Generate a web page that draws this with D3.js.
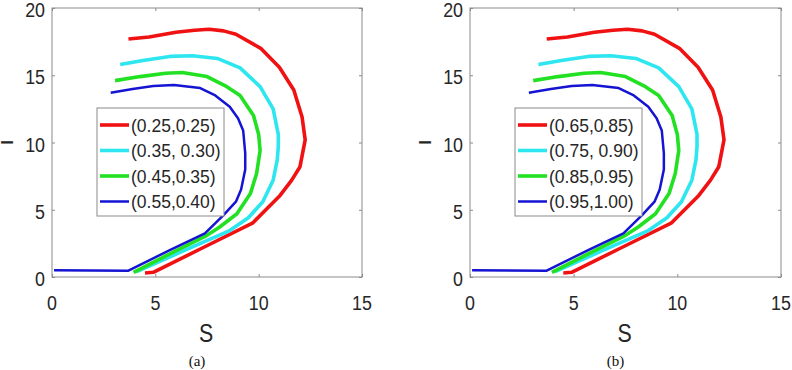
<!DOCTYPE html>
<html lang="en">
<head>
    <meta charset="UTF-8">
    <title>S-I phase curves</title>
    <script src="https://d3js.org/d3.v7.min.js" charset="utf-8"></script>
    <style>
        body { margin: 0; background: #fff; }
        svg { display: block; background: #fff; }
    </style>
</head>
<body>
    <div id="chart"></div>
    <script>
        // curve points as [S, I]
        var redPts = [[4.5, 0.3], [4.9, 0.35], [7.2, 2.1], [9.7, 4.0], [11.0, 6.0], [11.6, 7.2], [12.0, 8.2],
                      [12.25, 10.2], [12.1, 11.9], [11.7, 13.9], [11.0, 15.6], [10.1, 17.0], [8.9, 18.05],
                      [8.3, 18.3], [7.6, 18.42], [6.9, 18.35], [6.0, 18.2], [4.7, 17.85], [3.7, 17.7]];
        var cyanPts = [[4.1, 0.4], [6.3, 1.9], [8.6, 3.45], [9.5, 4.4], [10.2, 5.6], [10.7, 7.2], [10.9, 8.7],
                       [10.95, 9.7], [10.95, 10.6], [10.7, 12.5], [10.07, 14.15], [9.1, 15.55], [8.0, 16.25],
                       [6.8, 16.45], [5.7, 16.4], [4.4, 16.1], [3.3, 15.8]];
        var greenPts = [[3.95, 0.35], [5.8, 1.8], [7.5, 3.1], [8.1, 3.7], [8.95, 4.7], [9.6, 6.2], [9.9, 7.7],
                        [10.07, 9.4], [10.0, 10.6], [9.75, 12.0], [9.1, 13.5], [8.46, 14.15], [7.5, 14.9],
                        [6.3, 15.2], [5.5, 15.15], [4.26, 14.9], [3.05, 14.6]];
        var bluePts = [[0.1, 0.5], [3.7, 0.47], [5.7, 2.0], [7.4, 3.25], [8.3, 4.6], [8.9, 5.6], [9.15, 6.5],
                       [9.35, 8.0], [9.35, 9.2], [9.25, 10.9], [9.0, 11.8], [8.6, 12.66], [7.9, 13.5],
                       [7.17, 14.05], [5.9, 14.28], [4.9, 14.2], [3.9, 13.98], [2.84, 13.7]];

        var curveColors = ['#f01212', '#2ee6f0', '#22e022', '#1414d2'];
        var curveWidths = [3.6, 3.6, 3.6, 2.5];
        var legendA = ['(0.25,0.25)', '(0.35, 0.30)', '(0.45,0.35)', '(0.55,0.40)'];
        var legendB = ['(0.65,0.85)', '(0.75, 0.90)', '(0.85,0.95)', '(0.95,1.00)'];
        var xTicks = [0, 5, 10, 15];
        var yTicks = [0, 5, 10, 15, 20];

        var width = 792, height = 370;
        var plotTop = 8, plotBottom = 277;
        var tickFont = 'Liberation Sans, Arial, sans-serif';

        var svg = d3.select('#chart').append('svg')
            .attr('width', width)
            .attr('height', height);

        function drawPanel(left, right, labels, caption) {
            var x = d3.scaleLinear().domain([0, 15]).range([left, right]);
            var y = d3.scaleLinear().domain([0, 20]).range([plotBottom, plotTop]);
            var g = svg.append('g');

            // curves
            var line = d3.line().x(d => x(d[0])).y(d => y(d[1]));
            [redPts, cyanPts, greenPts, bluePts].forEach(function(pts, i) {
                g.append('path')
                    .attr('d', line(pts))
                    .attr('fill', 'none')
                    .attr('stroke', curveColors[i])
                    .attr('stroke-width', curveWidths[i])
                    .attr('stroke-linejoin', 'round');
            });

            // box with inward ticks on all four sides
            g.append('rect')
                .attr('x', left).attr('y', plotTop)
                .attr('width', right - left).attr('height', plotBottom - plotTop)
                .attr('fill', 'none').attr('stroke', '#8a8a8a').attr('stroke-width', 1);

            function tickOnly(a) {
                a.select('.domain').remove();
                a.selectAll('text').remove();
                a.selectAll('.tick line').attr('stroke', '#8a8a8a');
            }
            g.append('g').attr('transform', 'translate(0,' + plotBottom + ')')
                .call(d3.axisBottom(x).tickValues(xTicks).tickSize(-3)).call(tickOnly);
            g.append('g').attr('transform', 'translate(0,' + plotTop + ')')
                .call(d3.axisTop(x).tickValues(xTicks).tickSize(-3)).call(tickOnly);
            g.append('g').attr('transform', 'translate(' + left + ',0)')
                .call(d3.axisLeft(y).tickValues(yTicks).tickSize(-3)).call(tickOnly);
            g.append('g').attr('transform', 'translate(' + right + ',0)')
                .call(d3.axisRight(y).tickValues(yTicks).tickSize(-3)).call(tickOnly);

            // tick labels (squeezed a bit, like the exported figure)
            xTicks.forEach(function(t) {
                g.append('text')
                    .attr('transform', 'translate(' + x(t) + ',' + (plotBottom + 33) + ') scale(0.85,1)')
                    .attr('text-anchor', 'middle')
                    .style('font-family', tickFont).style('font-size', '21px')
                    .attr('fill', '#262626')
                    .text(t);
            });
            yTicks.forEach(function(t) {
                g.append('text')
                    .attr('transform', 'translate(' + (left - 7) + ',' + (y(t) + 9) + ') scale(0.85,1)')
                    .attr('text-anchor', 'end')
                    .style('font-family', tickFont).style('font-size', '21px')
                    .attr('fill', '#262626')
                    .text(t);
            });

            // axis labels
            g.append('text')
                .attr('transform', 'translate(' + (x(7.5) - 1) + ',' + (plotBottom + 65) + ') scale(0.82,1)')
                .attr('text-anchor', 'middle')
                .style('font-family', tickFont).style('font-size', '26px')
                .attr('fill', '#262626')
                .text('S');
            g.append('text')
                .attr('transform', 'translate(' + (left - 39) + ',' + y(10) + ') scale(0.6,1) rotate(-90)')
                .attr('text-anchor', 'middle')
                .style('font-family', tickFont).style('font-size', '26px')
                .attr('fill', '#262626')
                .text('I');

            // legend
            var lx = left + 45, ly = 108, lw = 127, lh = 108;
            var lg = g.append('g');
            lg.append('rect')
                .attr('x', lx).attr('y', ly).attr('width', lw).attr('height', lh)
                .attr('fill', '#fff').attr('stroke', '#8a8a8a').attr('stroke-width', 1);
            labels.forEach(function(lab, i) {
                var ry = ly + 17 + i * 25.5;
                lg.append('line')
                    .attr('x1', lx + 3).attr('x2', lx + 32)
                    .attr('y1', ry).attr('y2', ry)
                    .attr('stroke', curveColors[i])
                    .attr('stroke-width', curveWidths[i]);
                lg.append('text')
                    .attr('x', lx + 34).attr('y', ry + 6.5)
                    .style('font-family', tickFont).style('font-size', '17.5px')
                    .attr('fill', '#262626')
                    .text(lab);
            });

            // panel caption
            svg.append('text')
                .attr('x', x(7.5) - 10).attr('y', 366)
                .attr('text-anchor', 'middle')
                .style('font-family', 'Liberation Serif, Times New Roman, serif')
                .style('font-size', '15px')
                .attr('fill', '#111')
                .text(caption);
        }

        drawPanel(52, 362, legendA, '(a)');
        drawPanel(470, 781, legendB, '(b)');
    </script>
</body>
</html>
